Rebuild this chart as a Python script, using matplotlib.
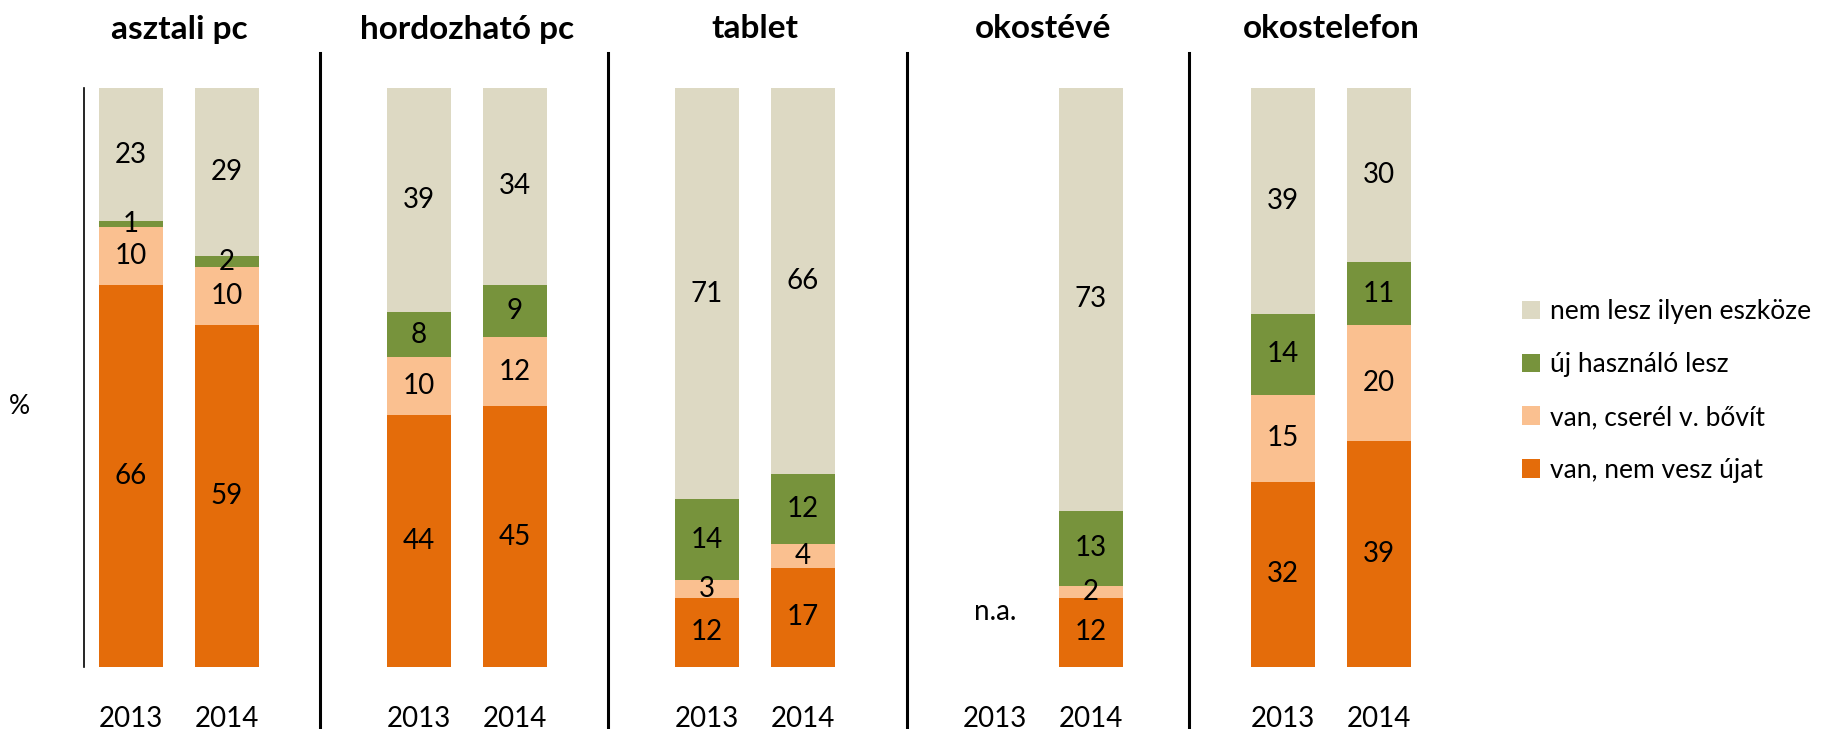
import numpy as np
import matplotlib
matplotlib.use("Agg")
import matplotlib.pyplot as plt
from matplotlib.patches import Patch

plt.rcParams['font.family'] = ['Lato', 'DejaVu Sans']

# ---- data ----
groups = ["asztali pc", "hordozható pc", "tablet", "okostévé", "okostelefon"]
years = ["2013", "2014"]
series_names = ["van, nem vesz újat", "van, cserél v. bővít", "új használó lesz", "nem lesz ilyen eszköze"]
series_colors = ["#E46C0A", "#FAC090", "#77933C", "#DDD9C3"]

# values per bar, order: asztali 2013, 2014, hordozható 2013, 2014, tablet 2013, 2014, okostévé 2013, 2014, okostelefon 2013, 2014
van_nem_vesz = [66, 59, 44, 45, 12, 17, np.nan, 12, 32, 39]
van_cserel   = [10, 10, 10, 12, 3, 4, np.nan, 2, 15, 20]
uj_hasznalo  = [1, 2, 8, 9, 14, 12, np.nan, 13, 14, 11]
nem_lesz     = [23, 29, 39, 34, 71, 66, np.nan, 73, 39, 30]
series_values = [van_nem_vesz, van_cserel, uj_hasznalo, nem_lesz]

na_label = "n.a."
separators = [1.97, 4.97, 8.08, 11.02]

# ---- layout ----
W, H = 1837, 729
fig = plt.figure(figsize=(W / 100, H / 100), dpi=100)
ax_left, ax_right, ax_top, ax_bot = 84, 1500, 88, 667
ax = fig.add_axes([ax_left / W, (H - ax_bot) / H, (ax_right - ax_left) / W, (ax_bot - ax_top) / H])

x = []
for g in range(len(groups)):
    x += [3 * g, 3 * g + 1]
x = np.array(x, dtype=float)

vals_arr = np.array(series_values, dtype=float)
totals = np.nansum(vals_arr, axis=0)
totals[totals == 0] = 1

bottom = np.zeros(len(x))
for name, vals, col in zip(series_names, series_values, series_colors):
    v = np.array(vals, dtype=float)
    h = np.nan_to_num(v) / totals * 100  # 100% stacked
    bars = ax.bar(x, h, width=0.667, bottom=bottom, color=col, label=name, edgecolor='none')
    labels = ['' if np.isnan(val) else f"{val:g}" for val in v]
    ax.bar_label(bars, labels=labels, label_type='center', fontsize=20, color='black')
    bottom = bottom + h

# n.a. label for missing bar
na_idx = int(np.where(np.isnan(np.array(van_nem_vesz, dtype=float)))[0][0])
ax.text(x[na_idx], 9.5, na_label, ha='center', va='center', fontsize=20)

ax.set_ylim(0, 100)
ax.set_xlim((ax_left - 131) / 96, (ax_right - 131) / 96)

ax.set_xticks(x)
ax.set_xticklabels(years * len(groups), fontsize=20)
ax.tick_params(axis='x', length=0, pad=28)
ax.set_yticks([])

for s in ['top', 'right', 'bottom']:
    ax.spines[s].set_visible(False)
ax.spines['left'].set_linewidth(1.2)

ax.set_ylabel('%', rotation=0, fontsize=19, va='center', ha='center')
ax.yaxis.set_label_coords((19 - ax_left) / (ax_right - ax_left), (ax_bot - 407) / (ax_bot - ax_top))

# titles
for g, name in enumerate(groups):
    ax.text(3 * g + 0.5, (ax_bot - 29) / (ax_bot - ax_top), name, transform=ax.get_xaxis_transform(),
            ha='center', va='center', fontsize=24, fontweight='bold')

# group separators
for sx in separators:
    ax.axvline(sx, ymin=(ax_bot - H) / (ax_bot - ax_top), ymax=(ax_bot - 53) / (ax_bot - ax_top),
               color='black', linewidth=2.2, clip_on=False)

# legend
handles = [Patch(facecolor=c, edgecolor='none') for c in series_colors[::-1]]
fig.legend(handles, series_names[::-1], loc='center left', bbox_to_anchor=(1522 / W, (H - 391) / H),
           frameon=False, fontsize=19, handlelength=0.7, handleheight=0.7, handletextpad=0.35,
           labelspacing=1.05, borderpad=0, borderaxespad=0)

fig.savefig("out.png", dpi=100)
